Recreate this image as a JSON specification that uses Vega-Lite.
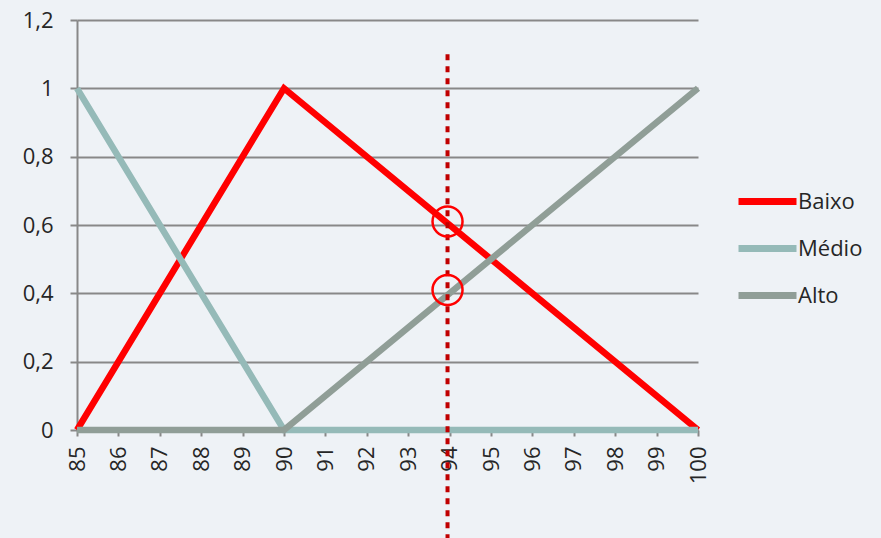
{
  "$schema": "https://vega.github.io/schema/vega-lite/v6.json",
  "width": 621,
  "height": 410,
  "autosize": {"type": "none"},
  "padding": {"left": 77, "top": 20, "right": 183, "bottom": 108},
  "background": "#eef2f6",
  "config": {
    "view": {"stroke": null},
    "font": "Open Sans"
  },
  "datasets": {
    "series": [
      {"x": 85, "value": 0, "serie": "Baixo"},
      {"x": 90, "value": 1, "serie": "Baixo"},
      {"x": 100, "value": 0, "serie": "Baixo"},
      {"x": 85, "value": 1, "serie": "Médio"},
      {"x": 90, "value": 0, "serie": "Médio"},
      {"x": 100, "value": 0, "serie": "Médio"},
      {"x": 85, "value": 0, "serie": "Alto"},
      {"x": 90, "value": 0, "serie": "Alto"},
      {"x": 100, "value": 1, "serie": "Alto"}
    ],
    "marker": [{"x": 93.95, "top": 1.1, "bottom": -0.32}],
    "circles": [{"x": 93.95, "value": 0.61}, {"x": 93.95, "value": 0.41}]
  },
  "layer": [
    {
      "data": {"name": "series"},
      "mark": {"type": "line", "strokeWidth": 6.5, "strokeCap": "butt", "strokeJoin": "miter"},
      "encoding": {
        "x": {
          "field": "x", "type": "quantitative",
          "scale": {"domain": [85, 100], "nice": false, "zero": false},
          "axis": {
            "values": [85,86,87,88,89,90,91,92,93,94,95,96,97,98,99,100],
            "title": null, "grid": false, "labelAngle": -90, "labelAlign": "right", "labelBaseline": "middle",
            "labelPadding": 10, "labelFont": "Open Sans", "labelFontSize": 22, "labelColor": "#262626",
            "labelFlush": false, "labelOverlap": false,
            "domainColor": "#888888", "domainWidth": 2,
            "tickColor": "#888888", "tickWidth": 2, "tickSize": 6
          }
        },
        "y": {
          "field": "value", "type": "quantitative",
          "scale": {"domain": [0, 1.2], "nice": false},
          "axis": {
            "values": [0, 0.2, 0.4, 0.6, 0.8, 1, 1.2],
            "title": null, "grid": true, "gridColor": "#888888", "gridWidth": 2, "gridOpacity": 1,
            "labelExpr": "replace(format(datum.value, '.1~f'), '.', ',')",
            "labelPadding": 17, "labelFont": "Open Sans", "labelFontSize": 22, "labelColor": "#262626",
            "labelFlush": false, "labelOverlap": false,
            "domainColor": "#888888", "domainWidth": 2,
            "tickColor": "#888888", "tickWidth": 2, "tickSize": 7
          }
        },
        "color": {
          "field": "serie", "type": "nominal",
          "scale": {"domain": ["Baixo", "Médio", "Alto"], "range": ["#FF0000", "#95BAB8", "#909E97"]},
          "legend": {
            "title": null, "orient": "none", "legendX": 658, "legendY": 149,
            "symbolType": "stroke", "symbolStrokeWidth": 7, "symbolSize": 3364,
            "labelFont": "Open Sans", "labelFontSize": 22, "labelColor": "#262626",
            "labelOffset": -2, "rowPadding": -8
          }
        },
        "order": {"field": "x", "type": "quantitative"}
      }
    },
    {
      "data": {"name": "marker"},
      "mark": {"type": "rule", "color": "#C00000", "strokeWidth": 4, "strokeDash": [6, 6], "clip": false},
      "encoding": {
        "x": {"field": "x", "type": "quantitative"},
        "y": {"field": "top", "type": "quantitative"},
        "y2": {"field": "bottom"}
      }
    },
    {
      "data": {"name": "circles"},
      "mark": {"type": "point", "shape": "circle", "filled": false, "color": "#FF0000", "strokeWidth": 2.5, "size": 900, "opacity": 1},
      "encoding": {
        "x": {"field": "x", "type": "quantitative"},
        "y": {"field": "value", "type": "quantitative"}
      }
    }
  ]
}
